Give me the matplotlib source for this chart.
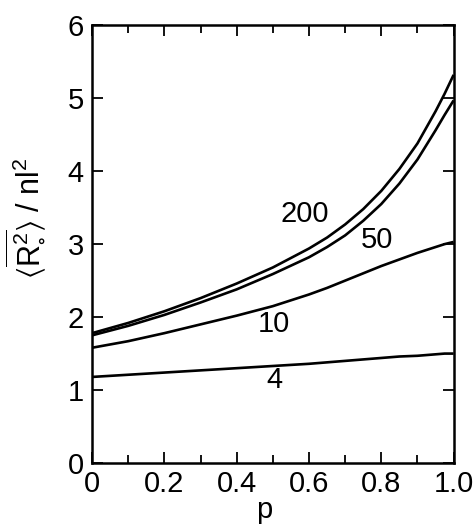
import numpy as np
import matplotlib
matplotlib.use('Agg')
import matplotlib.pyplot as plt
from matplotlib.ticker import MultipleLocator

plt.rcParams['font.family'] = ['Liberation Sans', 'DejaVu Sans']
plt.rcParams['mathtext.fontset'] = 'custom'
plt.rcParams['mathtext.rm'] = 'Liberation Sans'
plt.rcParams['mathtext.it'] = 'Liberation Sans'
plt.rcParams['mathtext.default'] = 'regular'

# values
p = [0, 0.1, 0.2, 0.3, 0.4, 0.5, 0.6, 0.65, 0.7, 0.75, 0.8, 0.85, 0.9, 0.95, 0.975, 1.0]
n200 = [1.78, 1.92, 2.08, 2.26, 2.46, 2.68, 2.94, 3.09, 3.27, 3.48, 3.73, 4.03, 4.38, 4.82, 5.06, 5.32]
n50 = [1.75, 1.88, 2.03, 2.20, 2.38, 2.59, 2.82, 2.96, 3.12, 3.32, 3.55, 3.83, 4.16, 4.56, 4.77, 4.97]
n10 = [1.58, 1.67, 1.78, 1.90, 2.02, 2.15, 2.31, 2.40, 2.50, 2.60, 2.70, 2.79, 2.88, 2.96, 3.00, 3.03]
n4 = [1.18, 1.21, 1.24, 1.27, 1.30, 1.33, 1.36, 1.38, 1.40, 1.42, 1.44, 1.46, 1.47, 1.49, 1.50, 1.50]

curves = [n200, n50, n10, n4]
names = ['200', '50', '10', '4']
label_pos = [(0.587, 3.41), (0.788, 3.05), (0.504, 1.90), (0.504, 1.14)]

fig = plt.figure(figsize=(4.77, 5.25), dpi=100)
ax = fig.add_axes([0.193, 0.118, 0.758, 0.834])

for ys, nm, (lx, ly) in zip(curves, names, label_pos):
    ax.plot(p, ys, color='black', lw=1.9, solid_capstyle='butt', solid_joinstyle='round')
    ax.text(lx, ly, nm, fontsize=21, ha='center', va='center')

ax.set_xlim(0, 1.0)
ax.set_ylim(0, 6)
ax.set_xticks([0, 0.2, 0.4, 0.6, 0.8, 1.0])
ax.set_xticklabels(['0', '0.2', '0.4', '0.6', '0.8', '1.0'])
ax.xaxis.set_minor_locator(MultipleLocator(0.1))
ax.set_yticks([0, 1, 2, 3, 4, 5, 6])
ax.tick_params(which='both', direction='in', top=True, right=True,
               width=1.3, labelsize=21)
ax.tick_params(which='major', length=8)
ax.tick_params(which='minor', length=6)
ax.tick_params(axis='x', pad=5)
ax.tick_params(axis='y', pad=6)
for s in ax.spines.values():
    s.set_linewidth(1.8)

ax.set_xlabel('p', fontsize=21)
ax.xaxis.set_label_coords(0.475, -0.075)
ax.set_ylabel(r'$\langle\overline{R_{\circ}^{2}}\rangle$ / nl$^{2}$', fontsize=22)
ax.yaxis.set_label_coords(-0.125, 0.56)

fig.savefig('out.png', dpi=100)
